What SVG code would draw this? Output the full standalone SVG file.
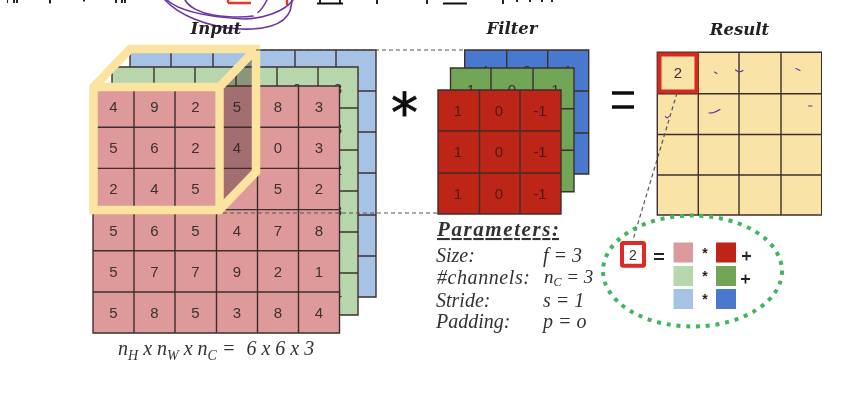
<svg xmlns="http://www.w3.org/2000/svg" width="850" height="408" viewBox="0 0 850 408">
<style>
.grid{stroke:#3f2f2e;stroke-width:1.4;fill:none}
.d{font-family:"Liberation Sans",Arial,sans-serif;font-size:15px;fill:#3a3030;text-anchor:middle}
.t{font-family:"DejaVu Serif",serif;font-weight:bold;font-style:italic;font-size:16.500px;fill:#222;text-anchor:middle}
.p{font-family:"Liberation Serif",serif;font-style:italic;font-size:20px;fill:#333}
.sub{font-size:14px}
.dash{stroke:#555;stroke-width:1.2;stroke-dasharray:4 3;fill:none}
.scr{stroke:#6a35a8;stroke-width:1.6;fill:none;stroke-linecap:round}
.cut{stroke:#111;stroke-width:1.800;fill:none}
.op{font-family:"Liberation Sans",Arial,sans-serif;fill:#222;text-anchor:middle}
</style>
<defs><filter id="soft" x="0" y="0" width="100%" height="100%"><feGaussianBlur stdDeviation="0.4"/></filter></defs>
<rect width="850" height="408" fill="#fff"/>
<g filter="url(#soft)">

<g id="top-fragments">
<path class="cut" d="M7 0V3M14 0V3M17 0V3M50 0V3.500M84 0V1.500M116 0V3M122 0V3M125 0V3M317 3.500H343M320 0V3M340 0V3M377 0V4M427 0V4M443 3.500H467M503 0V4"/>
<path class="cut" d="M517 0V2M530 0V2M542 0V2M552 0V2"/>
<path d="M228 3H251M228 0V3M287 0V5" fill="none" stroke="#e8352a" stroke-width="2.400"/>
</g>

<g id="input-blue">
<rect x="130" y="50" width="246" height="247" fill="#a6c3e6"/>
<path class="grid" d="M130 50H376V297H130ZM171 50V297M213 50V297M254 50V297M295 50V297M336 50V297M130 91H376M130 132H376M130 173H376M130 215H376M130 256H376"/>
<g class="d"><text x="152" y="77">1</text><text x="192" y="77">3</text><text x="233" y="77">0</text><text x="274" y="77">9</text><text x="315" y="77">3</text><text x="355" y="77">8</text></g>
</g>

<g id="input-green">
<rect x="112" y="67" width="246" height="248" fill="#b7d6ab"/>
<path class="grid" d="M112 67H358V315H112ZM154 67V315M195 67V315M236 67V315M277 67V315M318 67V315M112 108H358M112 150H358M112 191H358M112 232H358M112 273H358"/>
<g class="d"><text x="133" y="94">3</text><text x="174" y="94">3</text><text x="215" y="94">2</text><text x="256" y="94">0</text><text x="297" y="94">0</text><text x="338" y="94">8</text><text x="338" y="134">3</text><text x="338" y="175">2</text><text x="338" y="216">8</text><text x="338" y="299">4</text></g>
</g>

<g id="input-red">
<rect x="93" y="86" width="246.500" height="247" fill="#de9a9b"/>
<path class="grid" d="M93 86H339.500V333H93ZM134 86V333M175 86V333M216.500 86V333M257.500 86V333M298.500 86V333M93 127.200H339.500M93 168.400H339.500M93 209.600H339.500M93 250.800H339.500M93 292H339.500"/>
<g class="d">
<text x="113.500" y="112">4</text><text x="154.500" y="112">9</text><text x="195.500" y="112">2</text><text x="237" y="112">5</text><text x="278" y="112">8</text><text x="319" y="112">3</text>
<text x="113.500" y="153">5</text><text x="154.500" y="153">6</text><text x="195.500" y="153">2</text><text x="237" y="153">4</text><text x="278" y="153">0</text><text x="319" y="153">3</text>
<text x="113.500" y="194">2</text><text x="154.500" y="194">4</text><text x="195.500" y="194">5</text><text x="278" y="194">5</text><text x="319" y="194">2</text>
<text x="113.500" y="236">5</text><text x="154.500" y="236">6</text><text x="195.500" y="236">5</text><text x="237" y="236">4</text><text x="278" y="236">7</text><text x="319" y="236">8</text>
<text x="113.500" y="277">5</text><text x="154.500" y="277">7</text><text x="195.500" y="277">7</text><text x="237" y="277">9</text><text x="278" y="277">2</text><text x="319" y="277">1</text>
<text x="113.500" y="318">5</text><text x="154.500" y="318">8</text><text x="195.500" y="318">5</text><text x="237" y="318">3</text><text x="278" y="318">8</text><text x="319" y="318">4</text>
</g>
</g>

<g id="filter-cube">
<path d="M219.500 87L256 49V172L219.500 210Z" fill="#3a2020" fill-opacity=".36"/>
<path d="M93.500 87L130 49H256V172L219.500 210H93.500ZM93.500 87H219.500V210M219.500 87L256 49" fill="none" stroke="#fbe3a0" stroke-width="8.500" stroke-linejoin="miter"/>
</g>

<g id="filter-blue">
<rect x="464.700" y="50" width="124" height="124" fill="#4a79cf"/>
<path class="grid" d="M464.700 50H588.700V174H464.700ZM506.700 50V174M547.700 50V174M464.700 91H588.700M464.700 133H588.700"/>
<g class="d"><text x="486" y="76">1</text><text x="527" y="76">0</text><text x="568" y="76">1</text></g>
</g>
<g id="filter-green">
<rect x="450.500" y="68" width="123.500" height="123.700" fill="#73a557"/>
<path class="grid" d="M450.500 68H574V191.700H450.500ZM491 68V191.700M533 68V191.700M450.500 108.700H574M450.500 150.300H574"/>
<g class="d"><text x="471" y="95">1</text><text x="512" y="95">0</text><text x="553" y="95">-1</text></g>
</g>
<g id="filter-red">
<rect x="438" y="90" width="123" height="124" fill="#bd2619"/>
<path class="grid" d="M438 90H561V214H438ZM479.500 90V214M520 90V214M438 131H561M438 173H561"/>
<g class="d" style="fill:#4a1a12"><text x="458" y="116">1</text><text x="499" y="116">0</text><text x="540" y="116">-1</text><text x="458" y="157">1</text><text x="499" y="157">0</text><text x="540" y="157">-1</text><text x="458" y="199">1</text><text x="499" y="199">0</text><text x="540" y="199">-1</text></g>
</g>

<g id="result">
<rect x="657.300" y="52.300" width="164.400" height="162.700" fill="#f9e3a6"/>
<path class="grid" d="M657.300 52.300H821.700V215H657.300ZM698.300 52.300V215M739 52.300V215M781 52.300V215M657.300 93.700H821.700M657.300 134.500H821.700M657.300 175H821.700"/>
<rect x="659.500" y="54.500" width="37" height="37" fill="none" stroke="#d8291e" stroke-width="4"/>
<text class="d" x="678" y="78">2</text>
</g>

<g id="connectors">
<path class="dash" d="M256 50H465M223 213H438M677 93L633 240"/>
</g>

<g id="scribble">
<path class="scr" d="M165 0C178 14 205 27 240 29C262 30 284 26 290 11C291 7 292 3 292 0"/>
<path class="scr" d="M167 0C180 12 210 17 243 19C262 19 284 12 293 0"/>
<path class="scr" d="M185 0C189 7 200 13 213 15C227 17 240 18 253 16"/>
<path class="scr" d="M258 12.500C262 9 265 4 267 0"/>
<path class="scr" style="stroke-width:1.200" d="M714.500 72L717 73.500M735.500 70C738 72 741 72 743 70.500M796 68.500L800 70.500M665.500 116.500C666.500 118.500 668 118 669 116.500M709 113C713 113 717 111.500 720 109.500M808.500 106H812"/>
</g>

<g id="equation">
<ellipse cx="692.500" cy="271" rx="89.500" ry="55.500" fill="none" stroke="#3fb55f" stroke-width="4" stroke-dasharray="4 5.800"/>
<rect x="622" y="243" width="22" height="22.700" fill="#fff" stroke="#dd2a24" stroke-width="4" rx="1"/>
<text class="d" x="633" y="259.500" style="font-size:14px">2</text>
<rect x="673.500" y="242.500" width="19.500" height="20" fill="#dd9a9e"/>
<rect x="716" y="242.500" width="20" height="20" fill="#bd2619"/>
<rect x="673.500" y="266" width="19.500" height="20" fill="#b7d6ab"/>
<rect x="716" y="266" width="20" height="20" fill="#73a557"/>
<rect x="673.500" y="289" width="19.500" height="20" fill="#a6c3e6"/>
<rect x="716" y="289" width="20" height="20" fill="#4a79cf"/>
<path d="M654 254H664M654 259H664M742 256H751M746.500 251.500V260.500M741 279H750M745.500 274.500V283.500" stroke="#222" stroke-width="1.800" fill="none"/>
<g class="op" style="font-size:14px;font-weight:bold"><text x="705" y="258">*</text><text x="705" y="281">*</text><text x="705" y="304">*</text></g>
</g>

<g id="operators">
<text class="op" x="404.500" y="131" style="font-size:54px;fill:#111;stroke:#111;stroke-width:.8;font-family:'DejaVu Sans',sans-serif">*</text>
<path d="M612 93H634M612 107H634" stroke="#111" stroke-width="3.600" fill="none"/>
</g>

<g id="titles">
<text class="t" x="216" y="34">Input</text>
<text class="t" x="512" y="34">Filter</text>
<text class="t" x="739.500" y="35">Result</text>
</g>

<g id="parameters">
<text class="p" x="437" y="236" style="font-weight:bold;font-size:21px;text-decoration:underline" textLength="122" lengthAdjust="spacing">Parameters:</text>
<text class="p" x="436" y="262">Size:</text><text class="p" x="543" y="262">f = 3</text>
<text class="p" x="437" y="284" textLength="93">#channels:</text><text class="p" x="544" y="283" style="font-size:19px">n<tspan style="font-size:12px" dy="3">C</tspan><tspan dy="-3"> = 3</tspan></text>
<text class="p" x="436" y="307">Stride:</text><text class="p" x="543" y="307">s = 1</text>
<text class="p" x="436" y="328">Padding:</text><text class="p" x="543" y="328">p = o</text>
</g>

<g id="size-label">
<text class="p" x="118" y="355">n<tspan class="sub" dy="5">H</tspan><tspan dy="-5"> x n</tspan><tspan class="sub" dy="5">W</tspan><tspan dy="-5"> x n</tspan><tspan class="sub" dy="5">C</tspan><tspan dy="-5"> =</tspan><tspan dx="6"> 6 x 6 x 3</tspan></text>
</g>
</g>
</svg>
